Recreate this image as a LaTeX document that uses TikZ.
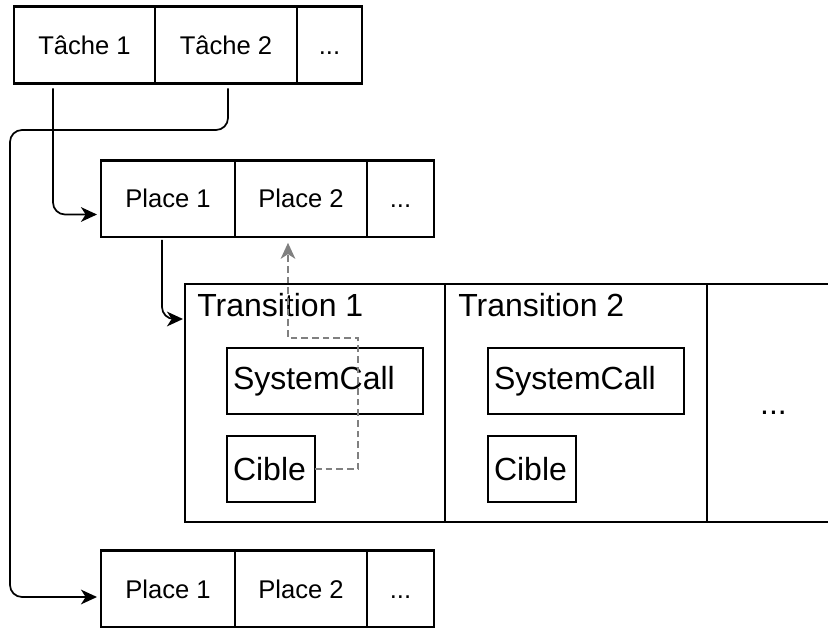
\documentclass[tikz,border=0pt]{standalone}
\usepackage{fontspec}
\setmainfont{Liberation Sans}
\usepackage{tikz}
\usetikzlibrary{positioning,calc,arrows.meta}

\tikzset{
  cell/.style={draw, line width=2pt, outer sep=0pt, inner sep=0pt, minimum height=57.5pt, text height=13.8pt, text depth=0pt, font=\fontsize{19.2}{22}\selectfont},
  bigcell/.style={draw, line width=1.3pt, outer sep=0pt, inner sep=0pt, minimum height=178.5pt, text height=17.3pt, text depth=0pt, font=\fontsize{24}{28}\selectfont},
  field/.style={draw, line width=1.3pt, outer sep=0pt, inner xsep=4.5pt, inner ysep=0pt, minimum height=49.5pt, align=left, font=\fontsize{24}{28}\selectfont},
  title/.style={anchor=north west, inner sep=0pt, font=\fontsize{24}{28}\selectfont},
  conn/.style={line width=1.3pt, rounded corners=9pt, -{Stealth[length=12pt,width=11pt,inset=3.5pt]}},
  backlink/.style={line width=1.2pt, draw=gray, dash pattern=on 5pt off 3pt, -{Stealth[length=12pt,width=11pt,inset=3.5pt,fill=gray]}}
}

\begin{document}
\begin{tikzpicture}[x=0.75pt,y=0.75pt,yscale=-1,xscale=1]
\useasboundingbox (0,0) rectangle (828,628);
\clip (0,0) rectangle (828,628);

%Shape: Table [id:taches]
\node[cell, minimum width=105.75pt] (tache1) at (84.5,45) {Tâche 1};
\node[cell, minimum width=106.5pt, right=0pt of tache1] (tache2) {Tâche 2};
\node[cell, minimum width=48.75pt, right=0pt of tache2] (tacheetc) {...};

%Shape: Table [id:places]
\node[cell, minimum width=100.5pt] (place1) at (168,198.5) {Place 1};
\node[cell, minimum width=99pt, right=0pt of place1] (place2) {Place 2};
\node[cell, minimum width=50.25pt, right=0pt of place2] (placeetc) {...};

%Shape: Table [id:transitions]
\node[bigcell, minimum width=195pt] (trans1) at (315,403) {};
\node[bigcell, minimum width=196.5pt, right=0pt of trans1] (trans2) {};
\node[bigcell, minimum width=99.75pt, right=0pt of trans2] (transetc) {...};
\node[title] (trans1name) at ($(trans1.north west)+(12,9)$) {Transition 1};
\node[title] (trans2name) at ($(trans2.north west)+(13,9)$) {Transition 2};

%Shape: Rectangle [id:champs]
\node[field, text width=138pt] (sys1) at (325,381) {SystemCall};
\node[field, text width=57pt] (cible1) at (271,469) {Cible};
\node[field, text width=138pt] (sys2) at (586,381) {SystemCall};
\node[field, text width=57pt] (cible2) at (532,469) {Cible};

%Shape: Table [id:places2]
\node[cell, minimum width=100.5pt] (placeB1) at (168,589) {Place 1};
\node[cell, minimum width=99pt, right=0pt of placeB1] (placeB2) {Place 2};
\node[cell, minimum width=50.25pt, right=0pt of placeB2] (placeBetc) {...};

\coordinate (bend) at (10,130);
\coordinate (dashturn) at (358,338);

%Connectors
\draw[conn] ($(tache1.south west)+(39,5)$) |- ($(place1.west)+(-4,16)$);
\draw[conn] ($(tache2.south)+(2,5)$) |- (bend) |- ($(placeB1.west)+(-4,8)$);
\draw[conn] ($(place1.south west)+(61,3)$) |- ($(trans1.north west)+(-2,35)$);
\draw[backlink] (cible1.east) -| (dashturn) -| ($(place2.south)+(-13,6)$);

\end{tikzpicture}
\end{document}
